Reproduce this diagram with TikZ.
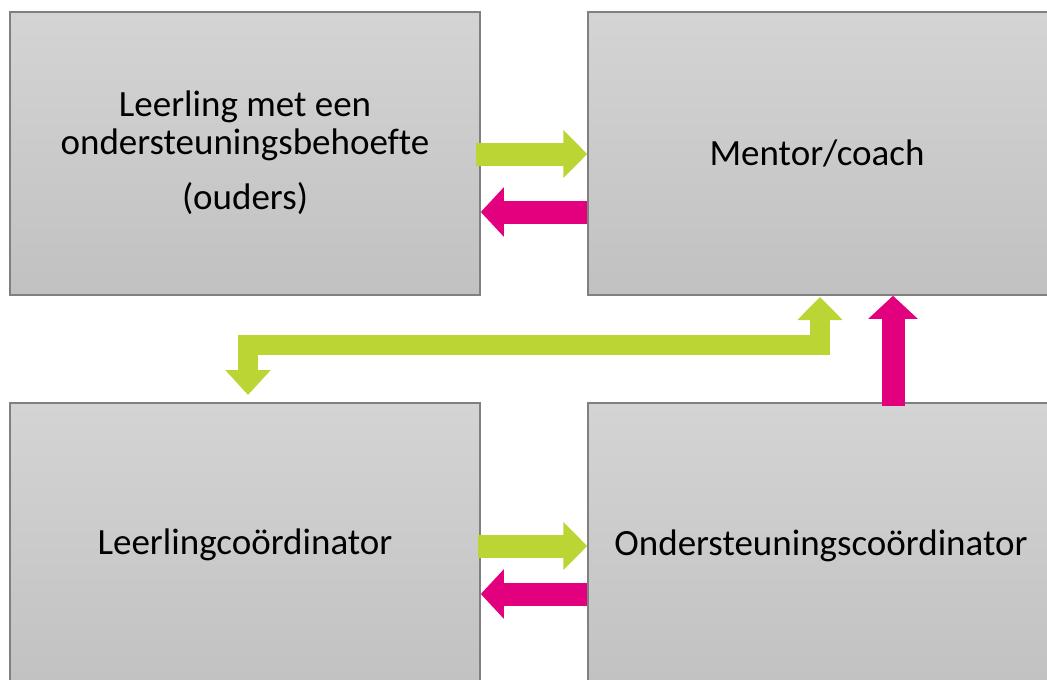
\documentclass[tikz,border=0pt]{standalone}
\usepackage{fontspec}
\setmainfont[Ligatures=NoCommon]{Carlito}
\usetikzlibrary{arrows.meta}
\definecolor{boxtop}{RGB}{212,212,212}
\definecolor{boxbot}{RGB}{193,193,193}
\definecolor{boxline}{RGB}{128,128,128}
\definecolor{lime}{RGB}{187,214,52}
\definecolor{magenta}{RGB}{227,0,126}
\tikzset{
  box/.style={draw=boxline, line width=1.5pt, top color=boxtop, bottom color=boxbot, inner sep=0pt},
  lbl/.style={font=\fontsize{37}{44}\selectfont, anchor=base, inner sep=0pt},
  garrow/.style={draw=lime, line width=23pt, -{Triangle[length=24pt,width=47pt]}},
  parrow/.style={draw=magenta, line width=23pt, -{Triangle[length=23pt,width=48pt]}},
  elbow/.style={draw=lime, line width=20pt, line join=miter, {Triangle[length=25pt,width=44pt]}-{Triangle[length=23pt,width=44pt]}},
}
\begin{document}
\begin{tikzpicture}[x=1pt,y=-1pt]
\useasboundingbox (0,0) rectangle (1047,680);
\clip (0,0) rectangle (1047,680);
% boxes
\node[box, minimum width=470pt, minimum height=283pt] (tl) at (245,153.5) {};
\node[box, minimum width=464pt, minimum height=283pt] (tr) at (820,153.5) {};
\node[box, minimum width=470pt, minimum height=290pt] (bl) at (245,548) {};
\node[box, minimum width=464pt, minimum height=290pt] (br) at (820,548) {};
% labels
\node[lbl] (t1) at (245,116) {Leerling met een};
\node[lbl] (t2) at (245,154) {ondersteuningsbehoefte};
\node[lbl] (t3) at (245,209) {(ouders)};
\node[lbl] (t4) at (817,165) {Mentor/coach};
\node[lbl] (t5) at (245,554) {Leerlingcoördinator};
\node[lbl] (t6) at (821,555) {Ondersteuningscoördinator};
% arrow coordinates
\coordinate (g1s) at (476,154);
\coordinate (g1e) at (tr.west |- g1s);
\coordinate (p1s) at (tr.west |- 0,212);
\coordinate (p1e) at (tl.east |- p1s);
\coordinate (g2s) at (478,546);
\coordinate (g2e) at (br.west |- g2s);
\coordinate (p2s) at (br.west |- 0,594);
\coordinate (p2e) at (bl.east |- p2s);
\coordinate (es) at (248,395);
\coordinate (ee) at (820,297);
\coordinate (vs) at (893,406);
\coordinate (ve) at (vs |- tr.south);
% arrows
\draw[garrow] (g1s) -- (g1e);
\draw[parrow] (p1s) -- (p1e);
\draw[garrow] (g2s) -- (g2e);
\draw[parrow] (p2s) -- (p2e);
\draw[elbow] (es) -- (248,345) -- (820,345) -- (ee);
\draw[parrow] (vs) -- (ve);
\end{tikzpicture}
\end{document}
